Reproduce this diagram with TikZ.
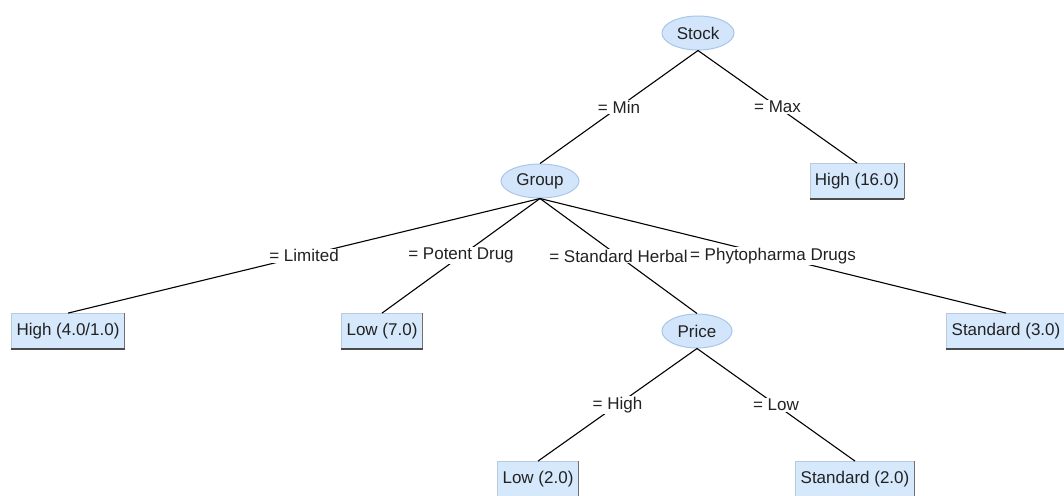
\documentclass[tikz,border=0pt]{standalone}
\usepackage{fontspec}
\setmainfont{Liberation Sans}
\usetikzlibrary{shapes.geometric}
\definecolor{boxfill}{HTML}{D6E8FC}
\definecolor{ellfill}{HTML}{D3E5FA}
\definecolor{elldraw}{HTML}{A9C6EA}
\definecolor{boxlight}{HTML}{B9CADC}
\definecolor{boxdark}{HTML}{4A4A4A}
\definecolor{boxside}{HTML}{707070}
\definecolor{txt}{HTML}{222222}
\begin{document}
\begin{tikzpicture}[x=1pt,y=-1pt, font=\fontsize{17}{20}\selectfont, text=txt,
  innernode/.style={ellipse, fill=ellfill, draw=elldraw, line width=1pt, minimum height=34pt, inner sep=0pt},
  leafnode/.style={rectangle, fill=boxfill, draw=boxlight, line width=0.8pt, minimum height=35pt, inner xsep=5pt, inner ysep=0pt},
  edgeline/.style={draw=black, line width=1.1pt},
  lbl/.style={fill=white, inner xsep=2pt, inner ysep=1pt},
  bevelbottom/.style={draw=boxdark, line width=1.6pt},
  bevelside/.style={draw=boxside, line width=1pt}]
\useasboundingbox (0,0) rectangle (1064,495);
\fill[white] (0,0) rectangle (1064,495);
% nodes
\node[innernode, minimum width=72pt] (stock) at (698,33) {Stock};
\node[innernode, minimum width=78pt] (group) at (540,181) {Group};
\node[innernode, minimum width=70pt] (price) at (697,331) {Price};
\node[leafnode] (h16) at (857,181) {High (16.0)};
\node[leafnode] (h41) at (68,331) {High (4.0/1.0)};
\node[leafnode] (l7) at (382,331) {Low (7.0)};
\node[leafnode] (s3) at (1006,331) {Standard (3.0)};
\node[leafnode] (l2) at (538,479) {Low (2.0)};
\node[leafnode] (s2) at (855,479) {Standard (2.0)};
\foreach \n in {h16,h41,l7,s3,l2,s2} {
  \draw[bevelside] (\n.north east) -- (\n.south east);
  \draw[bevelbottom] (\n.south west) -- (\n.south east);
}
% edges
\draw[edgeline] (stock.south) -- (group.north) node[lbl, midway] (lmin) {= Min};
\draw[edgeline] (stock.south) -- (h16.north) node[lbl, midway] (lmax) {= Max};
\draw[edgeline] (group.south) -- (h41.north) node[lbl, midway] (llim) {= Limited};
\draw[edgeline] (group.south) -- (l7.north) node[lbl, midway] (lpot) {= Potent Drug};
\draw[edgeline] (group.south) -- (price.north) node[lbl, midway] (lstd) {= Standard Herbal};
\draw[edgeline] (group.south) -- (s3.north) node[lbl, midway] (lphy) {= Phytopharma Drugs};
\draw[edgeline] (price.south) -- (l2.north) node[lbl, midway] (lhigh) {= High};
\draw[edgeline] (price.south) -- (s2.north) node[lbl, midway] (llow) {= Low};
\end{tikzpicture}
\end{document}
